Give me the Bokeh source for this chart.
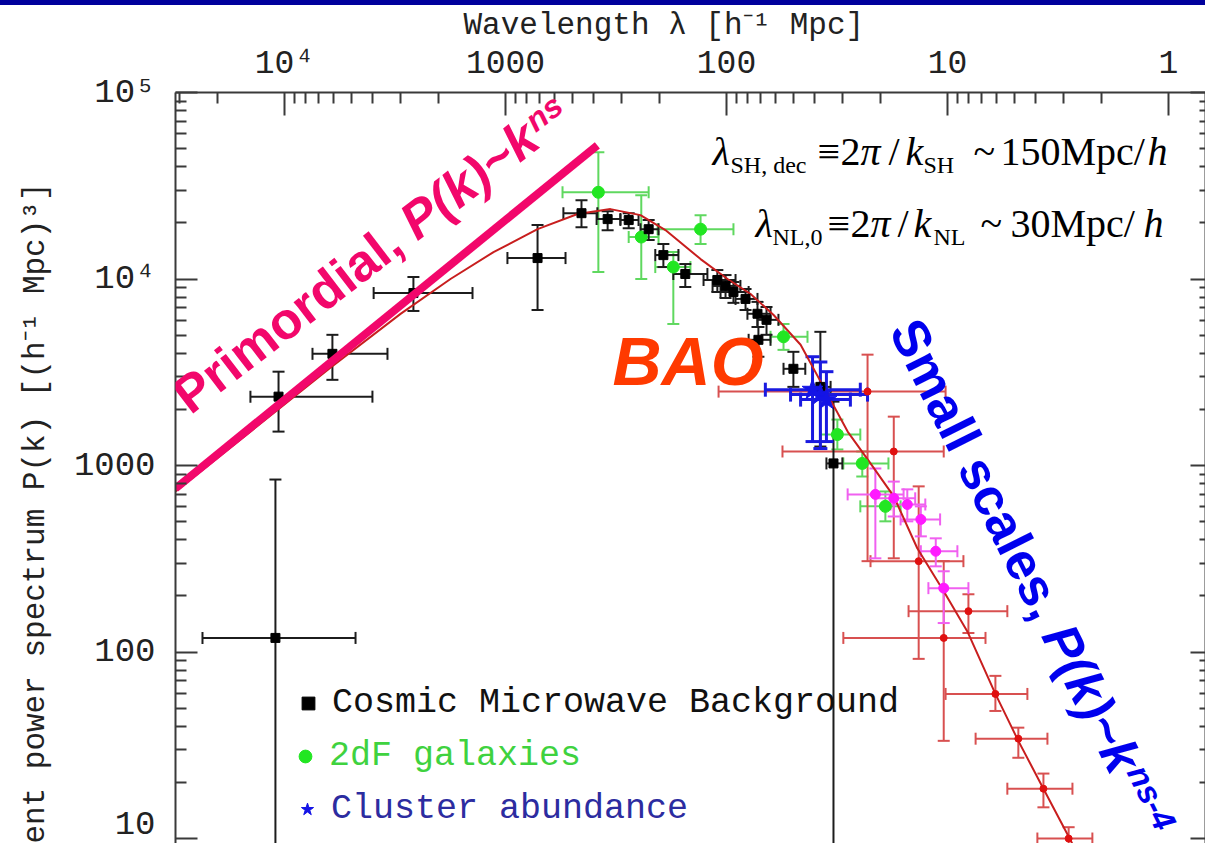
import math
from bokeh.plotting import figure
from bokeh.models import (ColumnDataSource, Range1d, LogAxis, FixedTicker, Whisker, TeeHead,
                          Label, Legend, LegendItem, Div, Title)
from bokeh.layouts import column
from bokeh.embed import file_html
from bokeh.resources import INLINE

# ---------------- data: wavelength lambda [h^-1 Mpc] and P(k) [(h^-1 Mpc)^3] ----------------
# Cosmic Microwave Background
cmb_lam    = [10640, 6070, 2610, 716, 453, 10990, 345, 277, 225, 193, 153.6, 110, 101, 93, 82, 72.4, 65.9, 71.7, 49.8, 37.6, 32.8]
cmb_lam_lo = [14260, 7470, 3950, 980, 547, 23500, 387, 302, 245, 210, 174, 127, 115.6, 106.4, 91, 80.4, 72.4, 79.4, 55.2, 40.8, 35.3]
cmb_lam_hi = [4000, 3420, 1410, 535, 384, 4770, 302, 250, 203, 165, 122, 91, 86.5, 79.4, 72.4, 63.2, 58.2, 63.2, 44.0, 33.8, 29.9]
cmb_pk     = [2340, 3970, 8410, 12950, 22540, 119, 20950, 20700, 18500, 13430, 10640, 9880, 9180, 8520, 7820, 6510, 6040, 4720, 3300, 2640, 1026]
cmb_pk_hi  = [3185, 5020, 10250, 19450, 26400, 841, 23100, 22540, 20700, 15390, 12030, 11170, 10500, 9640, 8840, 7540, 7080, 5530, 4070, 5210, 2200]
cmb_pk_lo  = [1520, 2880, 6740, 6820, 18960, 1, 18280, 18740, 16180, 11590, 9060, 8520, 7910, 7450, 6820, 5530, 5020, 3830, 2640, 1264, 1]

# 2dF galaxies
gal_lam    = [380, 131, 243, 174, 55.2, 31.5, 24.3, 19.1]
gal_lam_lo = [552, 205, 277, 210, 63.2, 37.6, 29.6, 24.8]
gal_lam_hi = [225, 93, 203, 145.6, 43.0, 24.8, 18.5, 16.3]
gal_pk     = [29170, 18500, 16790, 11590, 4900, 1466, 1026, 604]
gal_pk_hi  = [47750, 21990, 28120, 13940, 5740, 1763, 1189, 726]
gal_pk_lo  = [10900, 15390, 10000, 5740, 4170, 1219, 873, 502]

# Cluster abundance
clu_lam    = [40.8, 37.6, 35.3]
clu_lam_lo = [66.7, 51.3, 46.2]
clu_lam_hi = [24.8, 23.0, 27.5]
clu_pk     = [2550, 2400, 2256]
clu_pk_hi  = [3830, 3590, 3185]
clu_pk_lo  = [1344, 1233, 1344]

# Weak lensing
wl_lam    = [23.0, 17.5, 13.5, 8.04, 10.4, 6.07, 4.78, 3.68, 2.83]
wl_lam_lo = [108.6, 55.8, 22.3, 15.0, 29.6, 10.2, 7.46, 5.36, 3.92]
wl_lam_hi = [10.2, 10.4, 8.47, 5.36, 6.73, 4.35, 3.53, 2.72, 2.21]
wl_pk     = [2490, 1189, 307, 165.6, 119, 59.6, 34.3, 18.5, 10.0]
wl_pk_hi  = [3930, 1828, 773, 204, 307, 74.5, 39.3, 22.3, 11.5]
wl_pk_lo  = [307, 318, 91.9, 126.5, 33.4, 48.3, 27.1, 14.7, 8.6]

# Lyman-alpha forest
lya_lam    = [21.2, 17.5, 15.2, 13.2, 11.3, 10.4]
lya_lam_lo = [28.3, 21.2, 18.1, 16.3, 13.2, 12.2]
lya_lam_hi = [15.8, 14.0, 12.6, 10.8, 9.02, 8.04]
lya_pk     = [700, 667, 618, 514, 347, 220]
lya_pk_hi  = [964, 820, 745, 604, 407, 271]
lya_pk_lo  = [318, 533, 502, 417, 288, 143]

# LCDM model curve
model_lam = [31130, 14260, 6200, 2985, 1774, 1133, 716, 472, 335, 245, 189, 131, 98.9, 77.8, 61.2,
             46.2, 36.4, 28.3, 22.3, 17.5, 13.7, 10.4, 8.13, 6.07, 4.78, 3.68, 2.77, 2.50]
model_pk = [726, 1520, 3340, 6500, 10000, 13940, 18500, 22300, 23700, 22000, 18300, 12790, 10000, 8310, 6410,
            4440, 2640, 1520, 1026, 683, 360, 212, 129, 59.6, 33.4, 18.5, 9.76, 7.6]

# primordial power law P ~ k^ns
primordial_lam = [31130, 384]
primordial_pk = [753, 52100]

# axis ticks
lam_major = [1, 10, 100, 1000, 10000]
lam_labels = {10000: "10\u2074", 1000: "1000", 100: "100", 10: "10", 1: "1"}
pk_major = [10, 100, 1000, 10000, 100000]
pk_labels = {100000: "10\u2075", 10000: "10\u2074", 1000: "1000", 100: "100", 10: "10"}

# ---------------- styles ----------------
MONO = "Liberation Mono"
SANS = "Liberation Sans"
SERIF = "Liberation Serif"
PINK = "#f2076b"
# distance from the baseline to the middle of the text box, in em
MID = {SANS: 0.3465, SERIF: 0.3375, MONO: 0.2665}


def minor_ticks(lo_exp, hi_exp):
    return [m * 10 ** e for e in range(lo_exp, hi_exp) for m in range(2, 10)]


p = figure(width=1205, height=838, x_axis_type="log", y_axis_type="log",
           x_range=Range1d(31130, 0.68), y_range=Range1d(9.404, 1e5),
           x_axis_location="above", y_axis_location="left",
           output_backend="svg", toolbar_location=None,
           min_border_left=175, min_border_right=0, min_border_top=85, min_border_bottom=0)
p.outline_line_color = None
p.grid.visible = False
p.background_fill_color = "white"
p.border_fill_color = "white"

# top axis title
p.title.text = "Wavelength \u03bb [h\u207b\u00b9 Mpc]"
p.title.align = "left"
p.title.offset = 288
p.title.vertical_align = "bottom"
p.title.standoff = 0
p.title.text_font = MONO
p.title.text_font_size = "31px"
p.title.text_font_style = "normal"
p.title.text_color = "#222222"

# left axis title
p.add_layout(Title(text="Current power spectrum P(k) [(h\u207b\u00b9 Mpc)\u00b3]",
                   align="right", offset=90, vertical_align="top", standoff=32,
                   text_font=MONO, text_font_size="31px", text_font_style="normal",
                   text_color="#222222"), "left")

axis_color = "#3a3a3a"

xa = p.xaxis[0]
xa.ticker = FixedTicker(ticks=lam_major, minor_ticks=minor_ticks(0, 5))
xa.major_label_overrides = lam_labels
xa.major_tick_in, xa.major_tick_out = 23, 0
xa.minor_tick_in, xa.minor_tick_out = 11, 0
xa.major_label_standoff = 10
xa.major_label_text_font = MONO
xa.major_label_text_font_size = "33px"
xa.major_label_text_color = "#222222"

ya = p.yaxis[0]
ya.ticker = FixedTicker(ticks=pk_major, minor_ticks=minor_ticks(0, 5))
ya.major_label_overrides = pk_labels
ya.major_tick_in, ya.major_tick_out = 22, 0
ya.minor_tick_in, ya.minor_tick_out = 11, 0
ya.major_label_standoff = 20
ya.major_label_text_font = MONO
ya.major_label_text_font_size = "34px"
ya.major_label_text_color = "#222222"

# right-hand frame edge: ticks only
ra = LogAxis(ticker=FixedTicker(ticks=pk_major, minor_ticks=minor_ticks(0, 5)),
             major_tick_in=15, major_tick_out=0, minor_tick_in=6, minor_tick_out=0,
             major_label_text_font_size="1px", major_label_text_alpha=0, major_label_standoff=0)
p.add_layout(ra, "right")

for ax in (xa, ya, ra):
    ax.axis_line_color = axis_color
    ax.axis_line_width = 2
    ax.major_tick_line_color = axis_color
    ax.major_tick_line_width = 2
    ax.minor_tick_line_color = axis_color
    ax.minor_tick_line_width = 2


def dataset(lam, lam_lo, lam_hi, pk, pk_lo, pk_hi):
    return ColumnDataSource(dict(lam=lam, lam_lo=lam_lo, lam_hi=lam_hi, pk=pk, pk_lo=pk_lo, pk_hi=pk_hi))


def error_bars(src, color, width=2, cap=12):
    for dim, base, lo, hi in (("height", "lam", "pk_lo", "pk_hi"), ("width", "pk", "lam_hi", "lam_lo")):
        w = Whisker(source=src, base=base, lower=lo, upper=hi, dimension=dim,
                    line_color=color, line_width=width,
                    upper_head=TeeHead(size=cap, line_color=color, line_width=width),
                    lower_head=TeeHead(size=cap, line_color=color, line_width=width))
        p.add_layout(w)


cmb_src = dataset(cmb_lam, cmb_lam_lo, cmb_lam_hi, cmb_pk, cmb_pk_lo, cmb_pk_hi)
gal_src = dataset(gal_lam, gal_lam_lo, gal_lam_hi, gal_pk, gal_pk_lo, gal_pk_hi)
clu_src = dataset(clu_lam, clu_lam_lo, clu_lam_hi, clu_pk, clu_pk_lo, clu_pk_hi)
wl_src = dataset(wl_lam, wl_lam_lo, wl_lam_hi, wl_pk, wl_pk_lo, wl_pk_hi)
lya_src = dataset(lya_lam, lya_lam_lo, lya_lam_hi, lya_pk, lya_pk_lo, lya_pk_hi)

error_bars(gal_src, "#5fd85f")
error_bars(wl_src, "#d85050")
error_bars(lya_src, "#f060f0")
error_bars(cmb_src, "#1c1c1c")
error_bars(clu_src, "#1a1ae0", width=3, cap=14)

# model curve
p.line(model_lam, model_pk, line_color="#c81e1e", line_width=2)

gal_r = p.scatter("lam", "pk", source=gal_src, marker="circle", size=12, color="#22e622")
p.scatter("lam", "pk", source=wl_src, marker="circle", size=7, color="#e01010")
p.scatter("lam", "pk", source=lya_src, marker="circle", size=10, color="#ff1aff")
cmb_r = p.scatter("lam", "pk", source=cmb_src, marker="square", size=9, color="black")
clu_r = p.scatter("lam", "pk", source=clu_src, marker="star", size=22, color="#1414e6")

# primordial power law
p.line(primordial_lam, primordial_pk, line_color=PINK, line_width=8, line_cap="butt")


# ---------------- annotations ----------------
def baseline_text(x, y, parts, color, font, deg=0.0):
    """Text pieces sharing one baseline that starts at data point (x, y).
    parts: (text, distance along the baseline px, raise above it px, size px, style)"""
    th = math.radians(deg)
    c, s = math.cos(th), math.sin(th)
    for text, d, r, size, style in parts:
        rr = r + MID[font] * size
        p.add_layout(Label(x=x, y=y, text=text, angle=th,
                           x_offset=d * c - rr * s, y_offset=d * s + rr * c,
                           text_align="left", text_baseline="middle",
                           text_font=font, text_font_size=f"{size}px",
                           text_font_style=style, text_color=color))


baseline_text(26630, 1851, [
    ("Primordial, ", 0, 0, 52, "bold"),
    ("P(k)~k", 286, 0, 52, "bold italic"),
    ("ns", 446, 14, 32, "bold italic"),
], PINK, SANS, deg=37.5)

baseline_text(18.49, 5271, [
    ("Small scales, ", 0, 0, 52, "bold"),
    ("P(k)~k", 341, 0, 52, "bold italic"),
    ("ns-4", 501, 16, 33, "bold italic"),
], "#0000ee", SANS, deg=-63.5)

baseline_text(328, 2730, [("BAO", 0, 0, 68, "bold italic")], "#ff3a00", SANS)

baseline_text(115.7, 40700, [
    ("\u03bb", 0, 0, 40, "italic"), ("SH, dec", 18, -8, 24, "normal"),
    ("\u2261", 105, 0, 40, "normal"), ("2", 128, 0, 40, "normal"),
    ("\u03c0", 148, 0, 40, "italic"), ("/", 176, 0, 40, "normal"),
    ("k", 193, 0, 40, "italic"), ("SH", 211, -8, 24, "normal"),
    ("~", 261, 0, 40, "normal"), ("150Mpc/", 288, 0, 40, "normal"),
    ("h", 435, 0, 40, "italic"),
], "black", SERIF)

baseline_text(73.9, 16770, [
    ("\u03bb", 0, 0, 40, "italic"), ("NL,0", 17, -8, 24, "normal"),
    ("\u2261", 72, 0, 40, "normal"), ("2", 95, 0, 40, "normal"),
    ("\u03c0", 115, 0, 40, "italic"), ("/", 142, 0, 40, "normal"),
    ("k", 158, 0, 40, "italic"), ("NL", 178, -8, 24, "normal"),
    ("~", 225, 0, 40, "normal"), ("30Mpc/", 255, 0, 40, "normal"),
    ("h", 388, 0, 40, "italic"),
], "black", SERIF)

# ---------------- legend (one block per entry, each in its own colour) ----------------
legend_specs = [
    ("Cosmic Microwave Background", cmb_r, "#111111", (117, 120)),
    ("2dF galaxies", gal_r, "#3fd23f", (114, 67)),
    ("Cluster abundance", clu_r, "#2c2ca0", (116, 14)),
]
for text, rend, color, loc in legend_specs:
    lg = Legend(items=[LegendItem(label=text, renderers=[rend])], location=loc,
                border_line_color=None, background_fill_alpha=0,
                glyph_width=32, glyph_height=40, label_standoff=8,
                label_text_font=MONO, label_text_font_size="35px", label_text_color=color)
    p.add_layout(lg)

header = Div(text="", width=1205, height=5, margin=0, styles={"background-color": "#00009c"})
layout = column(header, p, spacing=0)

open("out.html", "w").write(file_html(layout, INLINE))
